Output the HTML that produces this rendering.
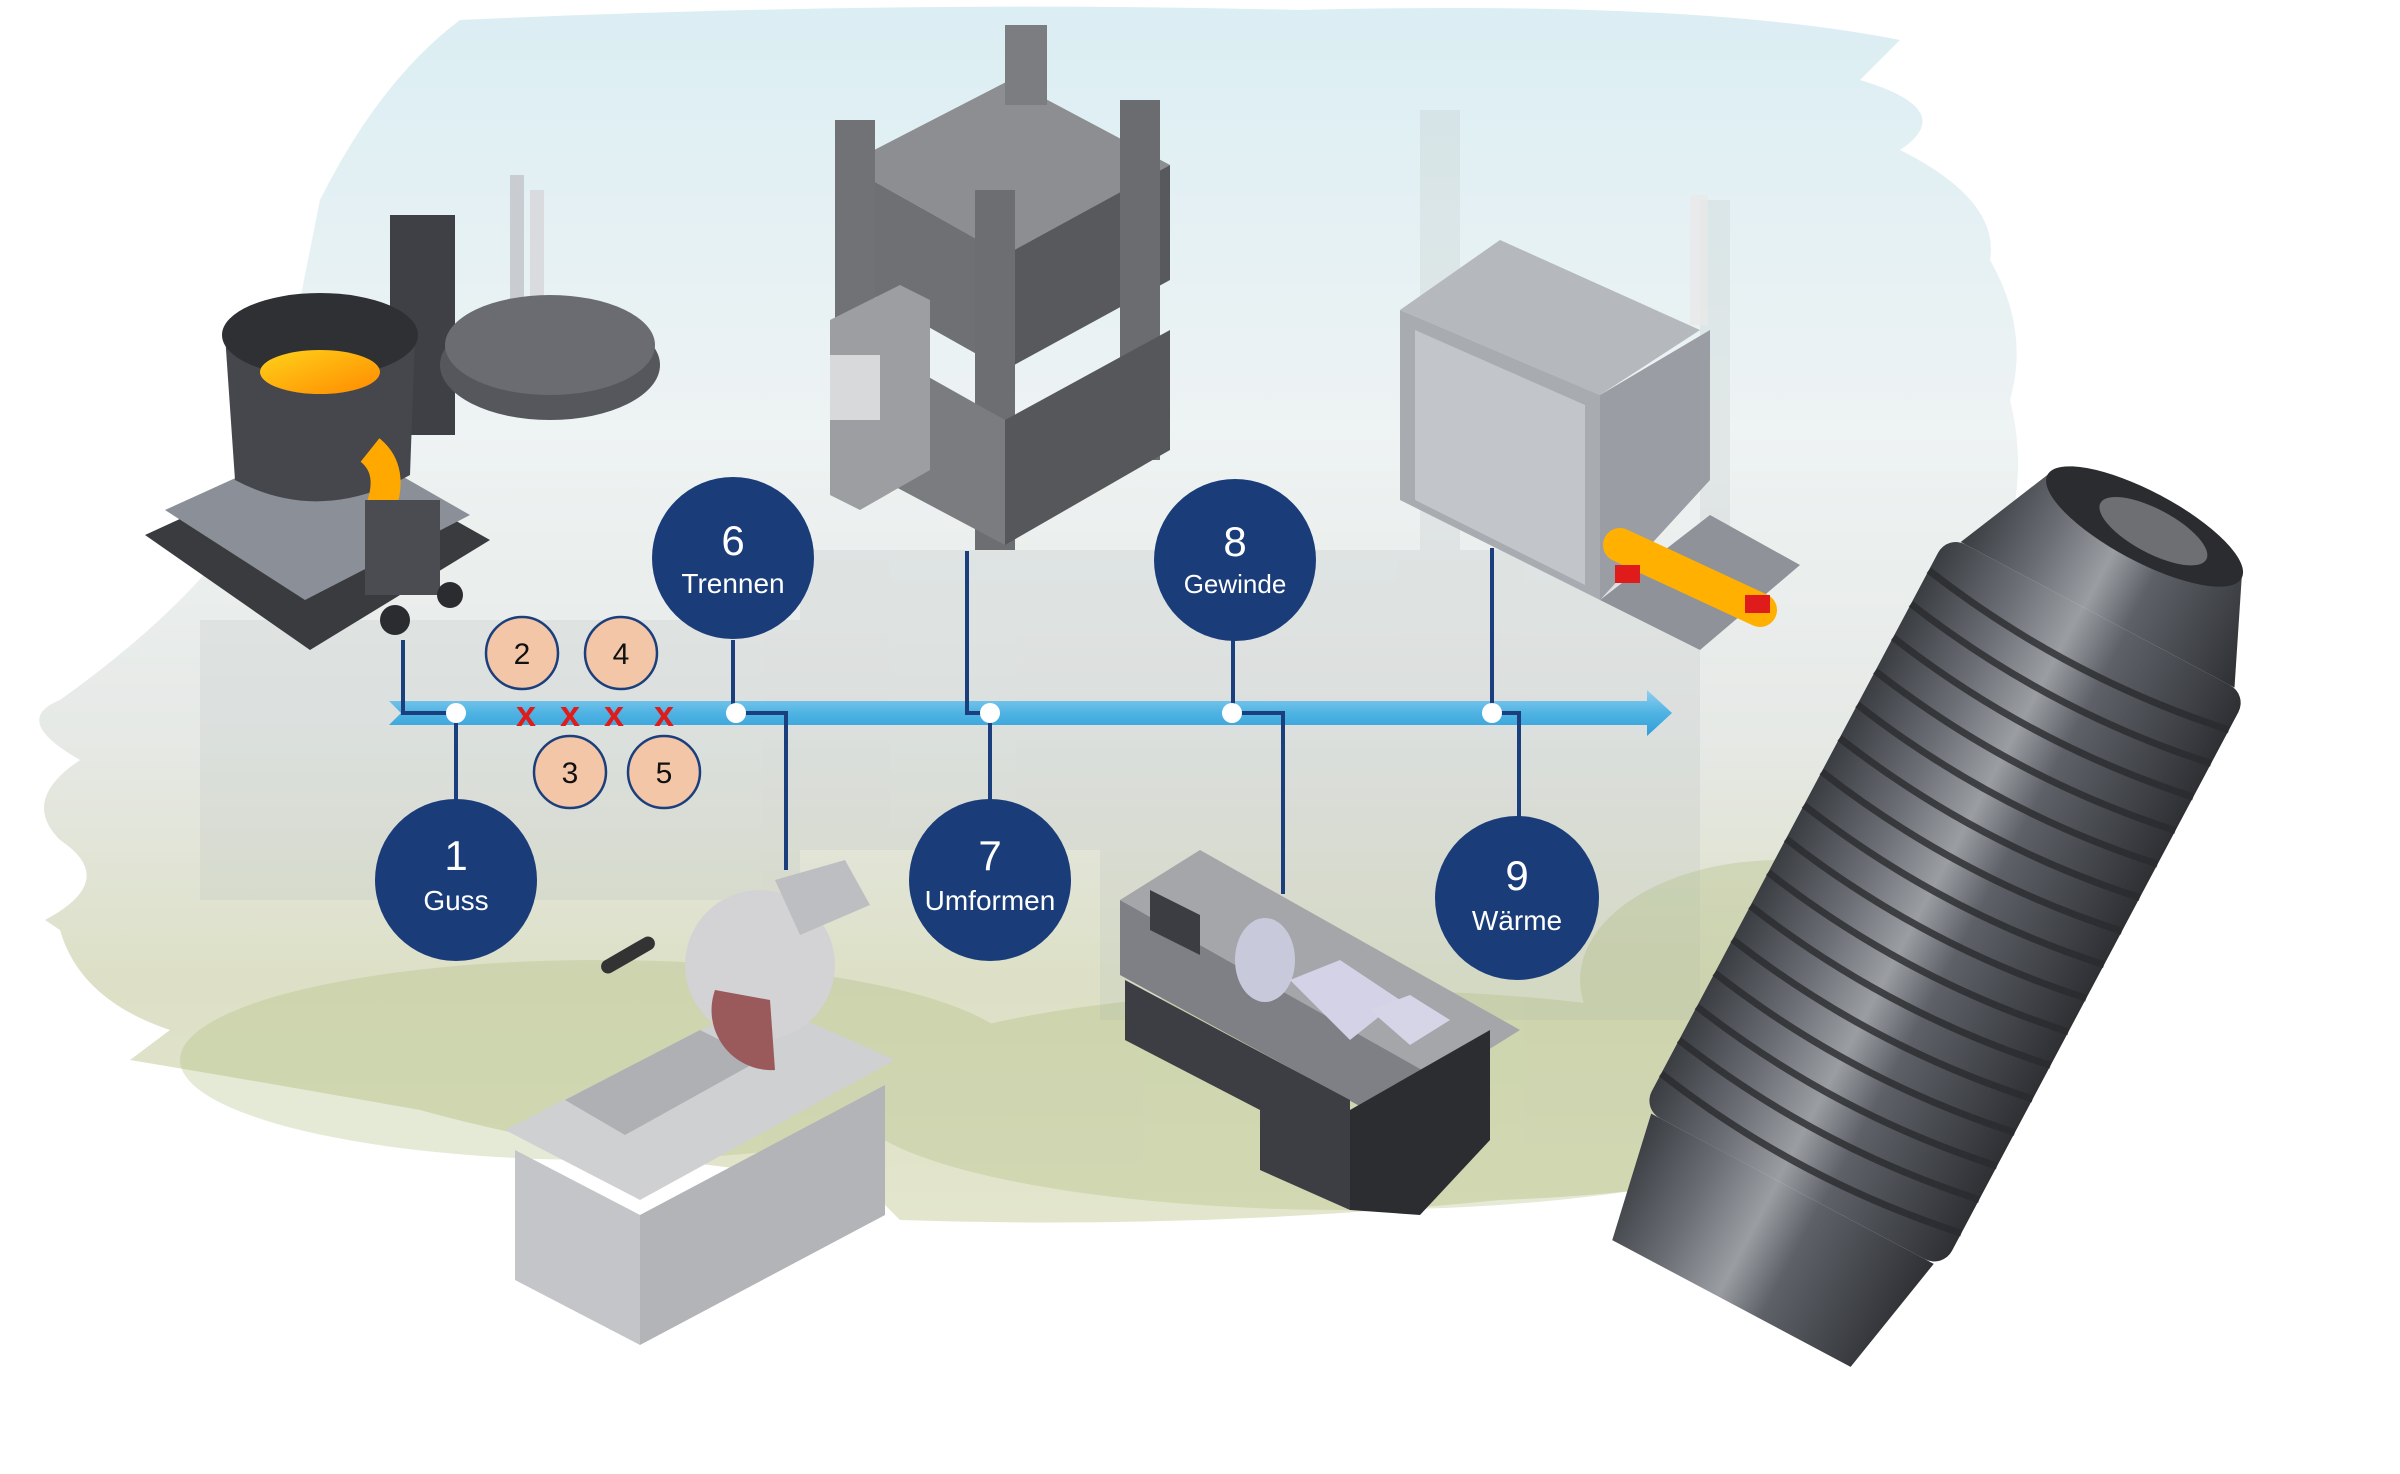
<!DOCTYPE html>
<html><head><meta charset="utf-8"><style>
html,body{margin:0;padding:0;background:#fff;}
svg{display:block;}
text{font-family:"Liberation Sans",sans-serif;}
</style></head><body>
<svg width="2400" height="1474" viewBox="0 0 2400 1474" xmlns="http://www.w3.org/2000/svg">
<defs>
<linearGradient id="bg" x1="0" y1="0" x2="0" y2="1">
<stop offset="0" stop-color="#dbeef3"/>
<stop offset="0.35" stop-color="#eef3f3"/>
<stop offset="0.6" stop-color="#e6e9e6"/>
<stop offset="0.8" stop-color="#dde0c6"/>
<stop offset="1" stop-color="#e3e6cc"/>
</linearGradient>
<linearGradient id="arr" x1="0" y1="0" x2="0" y2="1">
<stop offset="0" stop-color="#8fd0ef"/><stop offset="0.5" stop-color="#4fb3e3"/><stop offset="1" stop-color="#2f9fd8"/>
</linearGradient>
<linearGradient id="bolt" x1="0" y1="0" x2="1" y2="0">
<stop offset="0" stop-color="#3a3d42"/><stop offset="0.25" stop-color="#6b6f75"/><stop offset="0.45" stop-color="#9a9ea3"/><stop offset="0.6" stop-color="#5e6268"/><stop offset="1" stop-color="#2e3034"/>
</linearGradient>
<linearGradient id="melt" x1="0" y1="0" x2="1" y2="1">
<stop offset="0" stop-color="#ffd21a"/><stop offset="1" stop-color="#ff8a00"/>
</linearGradient>
</defs>

<path d="M460 20 Q900 0 1300 10 Q1700 0 1900 40 L1860 80 Q1960 110 1900 150 Q2000 200 1990 260 Q2030 330 2010 400 Q2030 480 2000 560 L1990 700 Q2000 900 1940 1100 Q1800 1190 1500 1200 Q1200 1230 900 1220 L860 1180 Q600 1160 420 1110 Q250 1080 130 1060 L170 1030 Q80 1000 60 930 L45 920 Q120 880 60 840 Q20 800 80 760 Q10 720 60 700 Q200 600 260 500 Q300 300 320 200 Q380 80 460 20 Z" fill="url(#bg)"/>
<g opacity="0.22" fill="#b8bdbf">
<rect x="1420" y="110" width="40" height="500"/><rect x="1700" y="200" width="30" height="350"/>
<rect x="800" y="550" width="900" height="300"/><rect x="200" y="620" width="600" height="280"/>
<rect x="1100" y="760" width="600" height="260"/>
</g>
<g opacity="0.3" fill="#a9b878"><ellipse cx="600" cy="1060" rx="420" ry="100"/><ellipse cx="1350" cy="1100" rx="500" ry="110"/><ellipse cx="1780" cy="980" rx="200" ry="120"/></g>

<g>
<polygon points="145,535 330,450 490,540 310,650" fill="#3a3b3f"/>
<polygon points="165,510 330,435 470,515 305,600" fill="#8a8f98"/>
<rect x="390" y="215" width="65" height="220" fill="#3f4045"/>
<rect x="510" y="175" width="14" height="140" fill="#c9ccd0"/><rect x="530" y="190" width="14" height="130" fill="#d9dbde"/>
<ellipse cx="550" cy="365" rx="110" ry="55" fill="#55575c"/>
<ellipse cx="550" cy="345" rx="105" ry="50" fill="#6a6c71"/>
<path d="M225 335 Q320 295 415 335 L410 475 Q320 525 235 480 Z" fill="#45474c"/>
<ellipse cx="320" cy="335" rx="98" ry="42" fill="#2f3034"/>
<ellipse cx="320" cy="372" rx="60" ry="22" fill="url(#melt)"/>
<path d="M370 450 Q395 470 380 510" stroke="#ffa800" stroke-width="30" fill="none"/>
<rect x="365" y="500" width="75" height="95" fill="#4a4c51"/>
<circle cx="395" cy="620" r="15" fill="#2b2c30"/><circle cx="450" cy="595" r="13" fill="#2b2c30"/>
</g>

<g>
<polygon points="845,165 1010,80 1170,165 1005,255" fill="#8c8e91"/>
<polygon points="845,165 1005,255 1005,370 845,280" fill="#6e7073"/>
<polygon points="1005,255 1170,165 1170,280 1005,370" fill="#58595c"/>
<rect x="1005" y="25" width="42" height="80" fill="#7b7d80"/><rect x="1120" y="100" width="40" height="360" fill="#6a6c6f"/>
<rect x="835" y="120" width="40" height="330" fill="#707275"/><rect x="975" y="190" width="40" height="360" fill="#6c6e71"/>
<polygon points="845,330 1005,420 1005,545 845,460" fill="#7a7c80"/>
<polygon points="1005,420 1170,330 1170,450 1005,545" fill="#55575a"/>
<polygon points="830,320 900,285 930,300 930,470 860,510 830,495" fill="#9c9ea1"/>
<rect x="830" y="355" width="50" height="65" fill="#d8d9da"/>
</g>

<g>
<polygon points="1400,310 1500,240 1700,330 1600,395" fill="#b5b8bd"/>
<polygon points="1400,310 1600,395 1600,600 1400,500" fill="#a8abb0"/>
<polygon points="1415,330 1585,405 1585,585 1415,500" fill="#c2c5c9"/>
<polygon points="1600,395 1710,330 1710,480 1600,600" fill="#9a9da3"/>
<polygon points="1600,600 1710,515 1800,565 1700,650" fill="#8f9298"/>
<path d="M1620 545 L1760 610" stroke="#ffb000" stroke-width="34" stroke-linecap="round"/>
<rect x="1615" y="565" width="25" height="18" fill="#e01b1b"/><rect x="1745" y="595" width="25" height="18" fill="#e01b1b"/>
<rect x="1690" y="195" width="18" height="130" fill="#e8e8e8" opacity="0.8"/>
</g>

<g>
<polygon points="505,1130 760,1000 895,1060 640,1200" fill="#cfd0d2"/>
<polygon points="515,1150 640,1215 640,1345 515,1280" fill="#c4c5c8"/>
<polygon points="640,1215 885,1085 885,1215 640,1345" fill="#b2b4b7"/>
<polygon points="565,1100 700,1030 760,1060 625,1135" fill="#aeb0b3"/>
<circle cx="760" cy="965" r="75" fill="#d3d3d5"/>
<path d="M715 990 A60 60 0 0 0 775 1070 L770 1000 Z" fill="#9a5a5c"/>
<rect x="598" y="948" width="60" height="14" rx="7" fill="#333" transform="rotate(-30 628 955)"/>
<polygon points="775,880 845,860 870,905 800,935" fill="#bcbec1"/>
</g>

<g>
<polygon points="1120,900 1200,850 1520,1030 1440,1080" fill="#a4a6aa"/>
<polygon points="1120,900 1440,1080 1440,1150 1120,975" fill="#7e8085"/>
<polygon points="1125,980 1350,1100 1350,1210 1260,1170 1260,1110 1125,1040" fill="#3c3e44"/>
<polygon points="1350,1110 1490,1030 1490,1140 1420,1215 1350,1210" fill="#2b2d31"/>
<polygon points="1150,890 1200,915 1200,955 1150,930" fill="#3b3d42"/>
<ellipse cx="1265" cy="960" rx="30" ry="42" fill="#c9c9dc"/>
<polygon points="1290,980 1340,960 1400,1000 1350,1040" fill="#d3d2e6"/>
<polygon points="1370,1010 1410,995 1450,1020 1410,1045" fill="#d6d5e8"/>
</g>

<g transform="translate(1938,915) rotate(28)">
<rect x="-170" y="-340" width="340" height="650" rx="20" fill="url(#bolt)"/>
<path d="M-155 -340 L-110 -440 L110 -440 L155 -340 Z" fill="url(#bolt)"/>
<ellipse cx="0" cy="-440" rx="110" ry="35" fill="#2b2c2f"/>
<ellipse cx="10" cy="-440" rx="60" ry="22" fill="#6e6f72"/>
<path d="M-160 310 L-135 440 L135 440 L160 310 Z" fill="url(#bolt)"/>
<g stroke="#2a2b2e" stroke-width="7" fill="none" opacity="0.8">
<path d="M-170 -300 Q0 -270 170 -300"/><path d="M-170 -262 Q0 -232 170 -262"/><path d="M-170 -224 Q0 -194 170 -224"/><path d="M-170 -186 Q0 -156 170 -186"/><path d="M-170 -148 Q0 -118 170 -148"/><path d="M-170 -110 Q0 -80 170 -110"/><path d="M-170 -72 Q0 -42 170 -72"/><path d="M-170 -34 Q0 -4 170 -34"/><path d="M-170 4 Q0 34 170 4"/><path d="M-170 42 Q0 72 170 42"/><path d="M-170 80 Q0 110 170 80"/><path d="M-170 118 Q0 148 170 118"/><path d="M-170 156 Q0 186 170 156"/><path d="M-170 194 Q0 224 170 194"/><path d="M-170 232 Q0 262 170 232"/><path d="M-170 270 Q0 300 170 270"/>
</g>
</g>

<polygon points="389,701 1647,701 1647,690 1672,713 1647,736 1647,725 389,725 401,713" fill="url(#arr)"/>

<g stroke="#1b3f7c" stroke-width="4" fill="none">
<path d="M403 640 L403 713 L456 713 L456 820"/>
<path d="M733 640 L733 713"/>
<path d="M736 713 L786 713 L786 870"/>
<path d="M967 551 L967 713 L990 713 L990 820"/>
<path d="M1233 640 L1233 713"/>
<path d="M1233 713 L1283 713 L1283 894"/>
<path d="M1492 548 L1492 713 L1519 713 L1519 822"/>
</g>
<g fill="#fff"><circle cx="456" cy="713" r="10"/><circle cx="736" cy="713" r="10"/><circle cx="990" cy="713" r="10"/><circle cx="1232" cy="713" r="10"/><circle cx="1492" cy="713" r="10"/></g>
<g fill="#e01b1b" font-size="36" font-weight="bold" text-anchor="middle"><text x="526" y="726">x</text><text x="570" y="726">x</text><text x="614" y="726">x</text><text x="664" y="726">x</text></g>

<g fill="#f3c6a8" stroke="#1b3f7c" stroke-width="2.5">
<circle cx="522" cy="653" r="36"/><circle cx="621" cy="653" r="36"/><circle cx="570" cy="772" r="36"/><circle cx="664" cy="772" r="36"/>
</g>
<g fill="#111" font-size="30" text-anchor="middle">
<text x="522" y="664">2</text><text x="621" y="664">4</text><text x="570" y="783">3</text><text x="664" y="783">5</text>
</g>

<g fill="#1a3d7a">
<circle cx="456" cy="880" r="81"/><circle cx="733" cy="558" r="81"/><circle cx="990" cy="880" r="81"/><circle cx="1235" cy="560" r="81"/><circle cx="1517" cy="898" r="82"/>
</g>
<g fill="#fff" text-anchor="middle">
<text x="456" y="870" font-size="42">1</text><text x="456" y="910" font-size="28">Guss</text>
<text x="733" y="555" font-size="42">6</text><text x="733" y="593" font-size="28">Trennen</text>
<text x="990" y="870" font-size="42">7</text><text x="990" y="910" font-size="28">Umformen</text>
<text x="1235" y="556" font-size="42">8</text><text x="1235" y="593" font-size="26">Gewinde</text>
<text x="1517" y="890" font-size="42">9</text><text x="1517" y="930" font-size="28">Wärme</text>
</g>
</svg>
</body></html>
